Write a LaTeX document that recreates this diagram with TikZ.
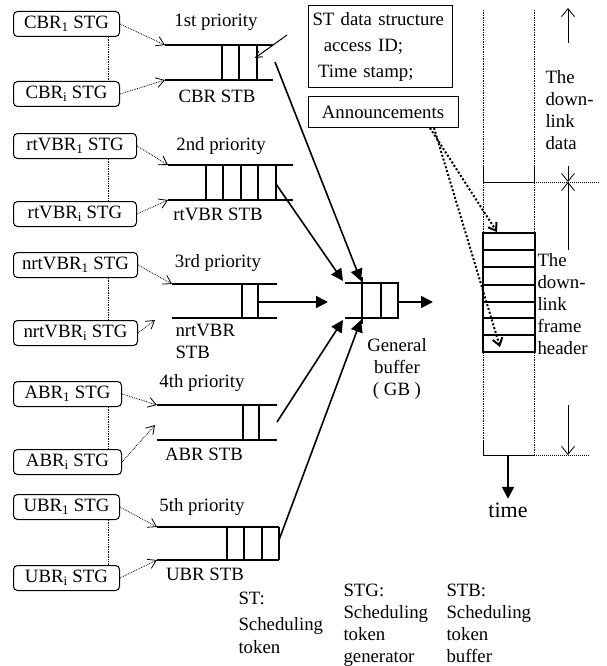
\documentclass[tikz,border=0pt]{standalone}
\usepackage{fontspec}
\setmainfont{Liberation Serif}
\usepackage{tikz}
\usetikzlibrary{arrows.meta,calc,positioning}

\tikzset{
  stg/.style={draw, rounded corners=4pt, line width=1pt, minimum height=25pt, inner sep=0pt, anchor=west},
  feed/.style={densely dotted, line width=0.8pt, -{Straight Barb[length=8pt,width=10pt]}},
  pair/.style={densely dotted, line width=0.7pt},
  cellln/.style={line width=1.3pt},
  tobuf/.style={line width=1.6pt, -{Triangle[length=12pt,width=12pt]}},
  annln/.style={dotted, line width=2pt, -{Straight Barb[length=7pt,width=10pt]}},
  span/.style={line width=0.8pt, -{Straight Barb[length=8pt,width=13pt]}},
  txt/.style={inner sep=0pt, align=left, anchor=north west},
}

\begin{document}
\begin{tikzpicture}[x=1pt,y=-1pt,font=\fontsize{18.8}{22}\selectfont,line width=1pt]
\useasboundingbox (0,0) rectangle (606,666);

% generators
\foreach \nm/\lab/\ya/\yb/\w in {cbr/CBR/24/94/106, rtvbr/rtVBR/146/214/123, nrtvbr/nrtVBR/265/333/124, abr/ABR/394/462/108, ubr/UBR/507/578/106} {
  \node[stg, minimum width=\w pt] (\nm-1) at (13,\ya) {\lab\textsubscript{1} STG};
  \node[stg, minimum width=\w pt] (\nm-i) at (13,\yb) {\lab\textsubscript{i} STG};
  \draw[pair] (\nm-1.south -| 108,0) -- (\nm-i.north -| 108,0);
}

% buffers
\coordinate (cbrT) at (165,45); \coordinate (cbrB) at (165,80);
\draw[cellln] (cbrT) -- (273,45) (cbrB) -- (273,80);
\foreach \x in {222,239,257} \draw[cellln] (\x,45) -- (\x,80);
\coordinate (cbrOut) at (275,62); \coordinate (cbrTok) at (255,58);

\coordinate (rtvbrT) at (168,165); \coordinate (rtvbrB) at (168,200);
\draw[cellln] (rtvbrT) -- (293,165) (rtvbrB) -- (293,200);
\foreach \x in {206,223,241,258,276} \draw[cellln] (\x,165) -- (\x,200);
\coordinate (rtvbrOut) at (276,184);

\coordinate (nrtvbrT) at (172,284); \coordinate (nrtvbrB) at (172,318);
\draw[cellln] (nrtvbrT) -- (277,284) (nrtvbrB) -- (277,318);
\foreach \x in {242,258} \draw[cellln] (\x,284) -- (\x,318);
\coordinate (nrtvbrOut) at (258,302); \coordinate (nrtvbrTip) at (155,320);

\coordinate (abrT) at (157,405); \coordinate (abrB) at (157,440);
\draw[cellln] (abrT) -- (277,405) (abrB) -- (277,440);
\foreach \x in {243,259} \draw[cellln] (\x,405) -- (\x,440);
\coordinate (abrOut) at (277,422); \coordinate (abrTip) at (155,425);

\coordinate (ubrT) at (157,527); \coordinate (ubrB) at (157,560);
\draw[cellln] (ubrT) -- (279,527) (ubrB) -- (279,560);
\foreach \x in {227,244,262,279} \draw[cellln] (\x,527) -- (\x,560);
\coordinate (ubrOut) at (279,540);

\draw[feed] (cbr-1.east) -- (cbrT);
\draw[feed] (cbr-i.east) -- (cbrB);
\draw[feed] (rtvbr-1.east) -- (rtvbrT);
\draw[feed] (rtvbr-i.east) -- (rtvbrB);
\draw[feed] (nrtvbr-1.east) -- (nrtvbrT);
\draw[feed] (nrtvbr-i.east) -- (nrtvbrTip);
\draw[feed] (abr-1.east) -- (abrT);
\draw[feed] (abr-i.east) -- (abrTip);
\draw[feed] (ubr-1.east) -- (ubrT);
\draw[feed] (ubr-i.east) -- (ubrB);

\node (prio1) at (216,22) {1st priority};
\node (prio2) at (221,146) {2nd priority};
\node (prio3) at (218,263) {3rd priority};
\node (prio4) at (202,383) {4th priority};
\node (prio5) at (202,507) {5th priority};
\node (cbrLab) at (217,96) {CBR STB};
\node (rtvbrLab) at (218,214) {rtVBR STB};
\node[txt] (nrtvbrLab) at (175,324) {nrtVBR\\STB};
\node (abrLab) at (204,454) {ABR STB};
\node (ubrLab) at (205,574) {UBR STB};

% general buffer
\coordinate (gbA) at (343,281); \coordinate (gbB) at (361,281);
\coordinate (gbC) at (343,320); \coordinate (gbD) at (361,320);
\coordinate (gbIn) at (328,302); \coordinate (gbOut) at (398,302); \coordinate (gbEnd) at (433,302);
\draw[cellln] (345,283) -- (398,283) -- (398,318) -- (345,318);
\draw[line width=2pt] (362,277) -- (362,324);
\draw[cellln] (381,283) -- (381,318);
\draw[tobuf] (rtvbrOut) -- (gbA);
\draw[tobuf] (cbrOut) -- (gbB);
\draw[tobuf] (abrOut) -- (gbC);
\draw[tobuf] (ubrOut) -- (gbD);
\draw[tobuf] (nrtvbrOut) -- (gbIn);
\draw[tobuf] (gbOut) -- (gbEnd);
\node[align=center, inner sep=0pt, anchor=north] (gbLab) at (397,338) {General\\buffer\\( GB )};

% boxes
\node[draw, anchor=north west, text width=136pt, inner xsep=4pt, minimum height=82pt] (stbox) at (308,5)
  {ST data structure\\[4pt]\hspace*{0.6em}access ID;\\[4pt]\hspace*{0.3em}Time stamp;};
\coordinate (stTail) at (287,35);
\draw[-{Straight Barb[length=6pt,width=7pt]}] (stTail) -- (cbrTok);
\node[draw, minimum width=150pt, minimum height=31pt, inner sep=0pt] (ann) at (383,112) {Announcements};

% downlink frame
\draw[densely dotted, line width=0.7pt] (483,10) -- (483,455) (534,10) -- (534,455);
\draw (483,165) -- (483,182) -- (534,182) -- (534,165);
\draw[densely dotted] (534,182) -- (600,182);
\draw (483,440) -- (483,455) -- (534,455);
\draw[densely dotted] (534,455) -- (590,455);
\draw[cellln] (483,233) rectangle (535,352);
\foreach \y in {250,267,285,302,318,335} \draw[cellln] (483,\y) -- (535,\y);
\coordinate (hdTop) at (497,232); \coordinate (hdBot) at (500,347);
\draw[annln] ([xshift=47pt]ann.south) -- (hdTop);
\draw[annln] ([xshift=51pt]ann.south) -- (hdBot);

\draw[span] (568,43) -- (568,8);
\draw[span] (568,166) -- (568,182);
\draw[span] (568,250) -- (568,182);
\draw[span] (568,405) -- (568,455);
\node[txt] (dataLab) at (545,70) {The\\down-\\link\\data};
\node[txt] (hdrLab) at (537,253) {The\\down-\\link\\frame\\header};

\coordinate (hdBase) at (508,455);
\node[font=\fontsize{22}{26}\selectfont] (timeLab) at (508,510) {time};
\draw[line width=2pt, -{Triangle[length=12pt,width=12pt]}] (hdBase) -- (timeLab.north);

% legend
\node[txt] (legST) at (238,592) {ST:\\[4pt]Scheduling\\[1pt]token};
\node[txt] (legSTG) at (343,584) {STG:\\Scheduling\\token\\generator};
\node[txt] (legSTB) at (446,584) {STB:\\Scheduling\\token\\buffer};
\end{tikzpicture}
\end{document}
